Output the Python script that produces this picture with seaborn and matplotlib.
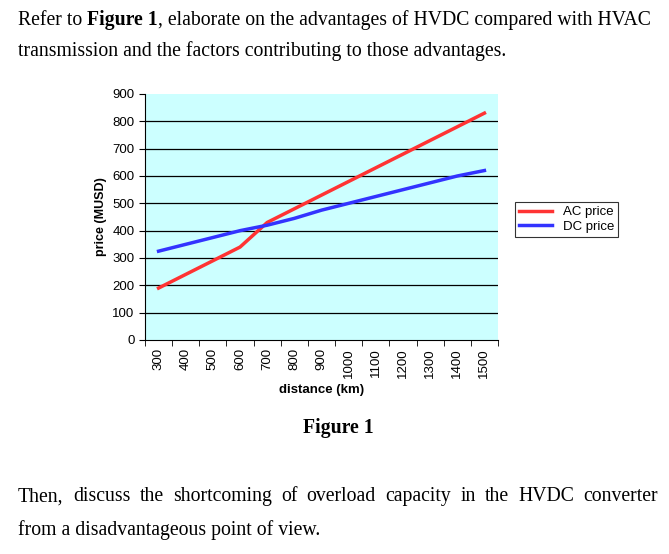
import numpy as np
import pandas as pd
import matplotlib
matplotlib.use("Agg")
import matplotlib.pyplot as plt
import seaborn as sns

distance = [300, 400, 500, 600, 700, 800, 900, 1000, 1100, 1200, 1300, 1400, 1500]
ac_price = [190, 240, 290, 340, 430, 480, 530, 580, 630, 680, 730, 780, 830]
dc_price = [325, 350, 375, 400, 420, 445, 475, 500, 525, 550, 575, 600, 620]

idx = np.arange(len(distance))
df = pd.DataFrame({
    "pos": np.concatenate([idx, idx]),
    "price": ac_price + dc_price,
    "series": ["AC price"] * len(idx) + ["DC price"] * len(idx),
})

fig = plt.figure(figsize=(6.69, 5.54), dpi=100)
serif = "Liberation Serif"
fs = 14.2
r = fig.canvas.get_renderer()

# first line, with bold part
x0 = 0.027
for s, w in [("Refer to ", "normal"), ("Figure 1", "bold"),
             (", elaborate on the advantages of HVDC compared with HVAC", "normal")]:
    t = fig.text(x0, 0.963, s, fontsize=fs, family=serif, weight=w, va="center")
    x0 += t.get_window_extent(r).width / fig.bbox.width
fig.text(0.027, 0.908, "transmission and the factors contributing to those advantages.",
         fontsize=fs, family=serif, va="center")
fig.text(0.505, 0.227, "Figure 1", fontsize=fs, family=serif, weight="bold",
         ha="center", va="center")

# justified line
words = "Then, discuss the shortcoming of overload capacity in the HVDC converter".split()
tw = [fig.text(0, 0.103, w, fontsize=fs, family=serif, va="center") for w in words]
widths = [t.get_window_extent(r).width / fig.bbox.width for t in tw]
left, right = 0.027, 658 / 669
gap = (right - left - sum(widths)) / (len(words) - 1)
x = left
for t, w in zip(tw, widths):
    t.set_x(x)
    x += w + gap
fig.text(0.027, 0.043, "from a disadvantageous point of view.",
         fontsize=fs, family=serif, va="center")

ax = fig.add_axes([145 / 669, 1 - 340 / 554, 353 / 669, 246 / 554])
ax.set_facecolor("#ccffff")
for yv in range(100, 900, 100):
    ax.axhline(yv, color="black", linewidth=0.9, zorder=0.5)
sns.lineplot(data=df, x="pos", y="price", hue="series",
             palette={"AC price": "#ff3333", "DC price": "#3333ff"},
             linewidth=2.5, ax=ax)
ax.set_xlim(-0.5, len(idx) - 0.5)
ax.set_ylim(0, 900)
ax.set_yticks(range(0, 901, 100))
ax.set_xticks(idx)
ax.set_xticklabels([str(d) for d in distance], rotation=90, family="Liberation Sans", fontsize=9.5)
ax.set_xticks(np.arange(-0.5, len(idx), 1), minor=True)
ax.tick_params(axis="x", which="major", length=0, pad=6)
ax.tick_params(axis="x", which="minor", length=4)
ax.tick_params(axis="y", length=4, labelsize=9.5)
for lab in ax.get_yticklabels():
    lab.set_family("Liberation Sans")
for side in ["top", "right"]:
    ax.spines[side].set_visible(False)
ax.set_xlabel("distance (km)", family="Liberation Sans", weight="bold", fontsize=9.5)
ax.set_ylabel("price (MUSD)", family="Liberation Sans", weight="bold", fontsize=9)
leg = ax.legend(title=None, loc="center left", bbox_to_anchor=(1.03, 0.49),
                frameon=True, fancybox=False, edgecolor="black",
                prop={"family": "Liberation Sans", "size": 9.5},
                handlelength=2.5, borderpad=0.3, labelspacing=0.2)
leg.get_frame().set_linewidth(0.8)

fig.savefig("out.png", dpi=100)
